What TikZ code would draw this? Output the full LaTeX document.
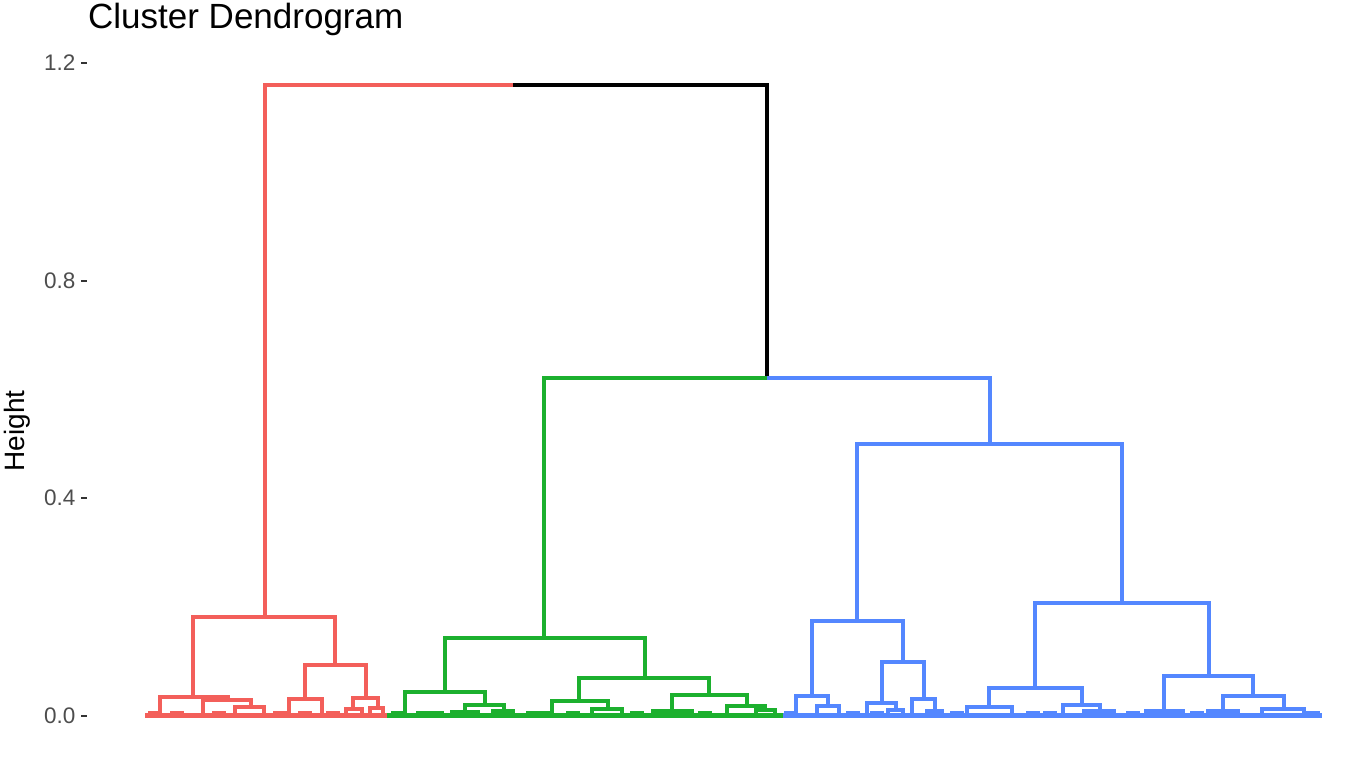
\documentclass[tikz,border=0pt]{standalone}
\usepackage{fontspec}
\setmainfont{Liberation Sans}
\definecolor{cRed}{HTML}{F35F5A}
\definecolor{cGreen}{HTML}{1CB02E}
\definecolor{cBlue}{HTML}{5487FF}
\definecolor{cAxis}{HTML}{4D4D4D}
% one clade: left x, right x, merge height, left end, right end
\newcommand{\Clade}[6]{\draw[#1] (#2,#5) -- (#2,#4) -- (#3,#4) -- (#3,#6);}

\begin{document}
\begin{tikzpicture}[x=1pt,y=-1pt]
\tikzset{BranchStyle/.style = {line width=3.2pt, line join=miter},
	RedBranch/.style = {BranchStyle, color=cRed},
	GreenBranch/.style = {BranchStyle, color=cGreen},
	BlueBranch/.style = {BranchStyle, color=cBlue},
	TopBranch/.style = {BranchStyle, color=black},
	LeafBand/.style = {line width=4.5pt},
	TickStyle/.style = {line width=2.2pt, color=black!80},
	TickLabel/.style = {anchor=east, inner sep=0pt, text=cAxis,
		font=\fontsize{22.5}{22.5}\selectfont}}
\useasboundingbox (0,0) rectangle (1347,756);

\node[anchor=base west, inner sep=0pt, font=\fontsize{35}{35}\selectfont] (title) at (88,28) {Cluster Dendrogram};
\node[rotate=90, inner sep=0pt, font=\fontsize{28}{28}\selectfont] (ylab) at (17.5,431) {Height};

% y axis
\foreach \v/\py in {0.0/716, 0.4/498, 0.8/281, 1.2/63}{
	\draw[TickStyle] (81,\py) -- (87,\py);
	\node[TickLabel] (tick\py) at (75.5,\py) {\v};
}

% top of the tree
\draw[RedBranch] (265,617) -- (265,85) -- (513,85);
\draw[TopBranch] (513,85) -- (767,85) -- (767,378);
\draw[GreenBranch] (544,638) -- (544,378) -- (767,378);
\draw[BlueBranch] (767,378) -- (990,378) -- (990,444);

% red cluster
\draw[RedBranch, LeafBand] (145,715.5) -- (387,715.5);
\Clade{RedBranch}{193}{335}{617}{697}{665}
\Clade{RedBranch}{160}{228}{697}{716}{700}
\Clade{RedBranch}{203}{251}{700}{716}{707}
\Clade{RedBranch}{235}{264}{707}{716}{716}
\Clade{RedBranch}{305}{366}{665}{699}{698}
\Clade{RedBranch}{289}{322}{699}{716}{716}
\Clade{RedBranch}{353}{378}{698}{709}{708}
\Clade{RedBranch}{346}{362}{709}{716}{716}
\Clade{RedBranch}{370}{383}{708}{716}{716}
\foreach \a in {150,172,214,275,300,328}{
	\Clade{RedBranch}{\a}{\a+10}{712.5}{716}{716}
}

% green cluster
\draw[GreenBranch, LeafBand] (387,715.5) -- (783,715.5);
\Clade{GreenBranch}{445}{645}{638}{692}{678}
\Clade{GreenBranch}{405}{485}{692}{716}{705}
\Clade{GreenBranch}{465}{504}{705}{712}{711}
\Clade{GreenBranch}{452}{478}{712}{716}{716}
\Clade{GreenBranch}{493}{513}{711}{716}{716}
\Clade{GreenBranch}{579}{709}{678}{701}{695}
\Clade{GreenBranch}{552}{608}{701}{716}{709}
\Clade{GreenBranch}{592}{622}{709}{716}{716}
\Clade{GreenBranch}{672}{747}{695}{711}{706}
\Clade{GreenBranch}{653}{692}{711}{716}{716}
\Clade{GreenBranch}{727}{765}{706}{716}{710}
\Clade{GreenBranch}{756}{775}{710}{716}{716}
\foreach \a in {393,418,432,528,540,568,632,700}{
	\Clade{GreenBranch}{\a}{\a+10}{712.5}{716}{716}
}

% blue cluster
\draw[BlueBranch, LeafBand] (783,715.5) -- (1322,715.5);
\Clade{BlueBranch}{857}{1122}{444}{621}{603}
\Clade{BlueBranch}{812}{903}{621}{696}{662}
\Clade{BlueBranch}{796}{828}{696}{716}{706}
\Clade{BlueBranch}{817}{839}{706}{716}{716}
\Clade{BlueBranch}{882}{924}{662}{703}{699}
\Clade{BlueBranch}{867}{896}{703}{716}{710}
\Clade{BlueBranch}{888}{903}{710}{716}{716}
\Clade{BlueBranch}{912}{935}{699}{716}{711}
\Clade{BlueBranch}{927}{942}{711}{716}{716}
\Clade{BlueBranch}{1035}{1209}{603}{688}{676}
\Clade{BlueBranch}{989}{1082}{688}{707}{705}
\Clade{BlueBranch}{967}{1012}{707}{716}{716}
\Clade{BlueBranch}{1063}{1100}{705}{716}{711}
\Clade{BlueBranch}{1084}{1114}{711}{716}{716}
\Clade{BlueBranch}{1164}{1253}{676}{711}{696}
\Clade{BlueBranch}{1146}{1183}{711}{716}{716}
\Clade{BlueBranch}{1223}{1284}{696}{711}{709}
\Clade{BlueBranch}{1208}{1238}{711}{716}{716}
\Clade{BlueBranch}{1262}{1304}{709}{716}{716}
\foreach \a in {786,848,872,952,1028,1045,1128,1192,1308}{
	\Clade{BlueBranch}{\a}{\a+10}{712.5}{716}{716}
}
\end{tikzpicture}
\end{document}
